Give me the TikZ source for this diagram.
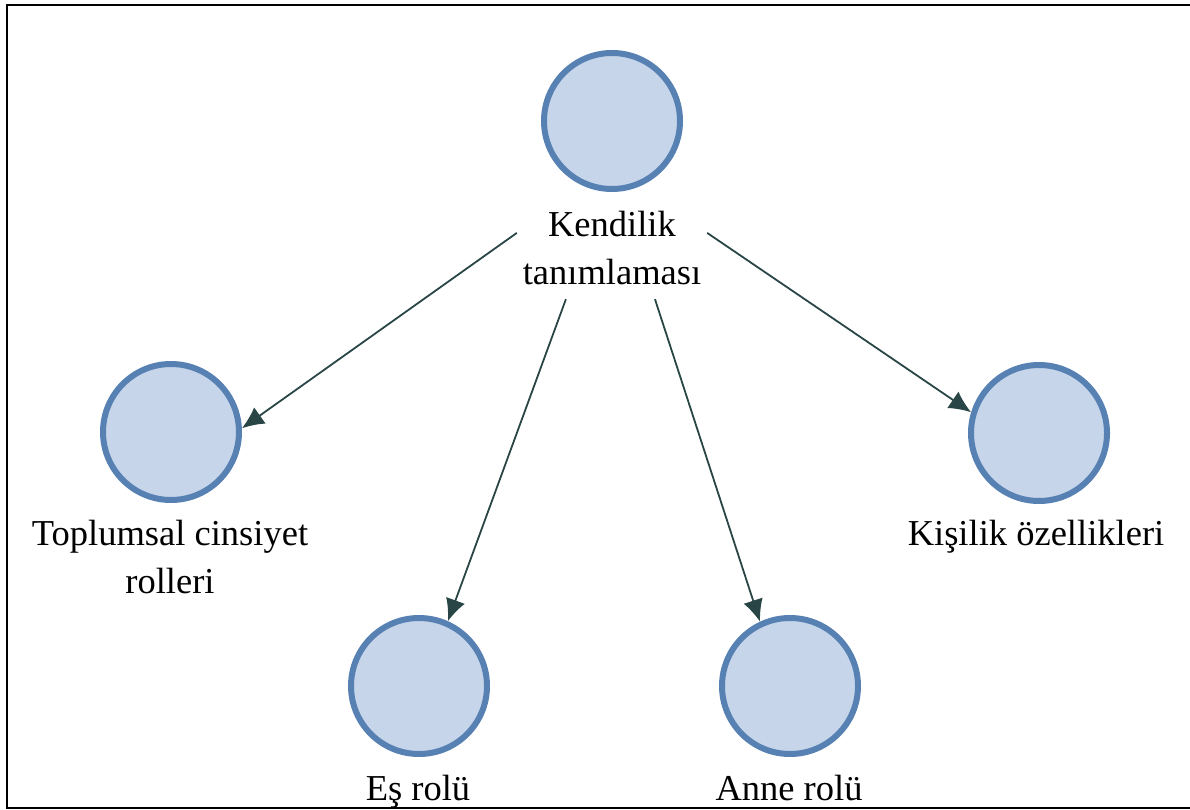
\documentclass[tikz,border=0pt]{standalone}
\usepackage{fontspec}
\setmainfont{Liberation Serif}
\usetikzlibrary{arrows.meta}
\definecolor{cfill}{HTML}{C6D5EA}
\definecolor{cdraw}{HTML}{5781B2}
\definecolor{arr}{HTML}{2A4545}
\begin{document}
\begin{tikzpicture}[x=1pt,y=-1pt,
  bub/.style={circle,draw=cdraw,fill=cfill,line width=6pt,minimum size=136pt,inner sep=0pt},
  lbl/.style={font=\fontsize{36.5}{48}\selectfont,align=center,inner sep=0pt},
  link/.style={draw=arr,line width=1.8pt,-{Latex[length=22pt,width=20pt]}}]
\useasboundingbox (0,0) rectangle (1190,810);
\draw[line width=2pt] (1190,5) -- (7,5) -- (7,808) -- (1190,808);
\node[bub] (c0) at (612,121) {};
\node[bub] (c1) at (171,432) {};
\node[bub] (c2) at (419,686) {};
\node[bub] (c3) at (790,686) {};
\node[bub] (c4) at (1039,433) {};
\node[lbl,minimum width=190pt,minimum height=102pt] (kt) at (612,248) {Kendilik\\tanımlaması};
\node[lbl,anchor=base] (t1) at (170,593) {Toplumsal cinsiyet\\rolleri};
\node[lbl,anchor=base] (t2) at (418,800) {Eş rolü};
\node[lbl,anchor=base] (t3) at (789,800) {Anne rolü};
\node[lbl,anchor=base] (t4) at (1036,545) {Kişilik özellikleri};
\draw[link] (kt.171) -- (c1.3);
\draw[link] (kt.228.7) -- (c2.66);
\draw[link] (kt.310.7) -- (c3.115);
\draw[link] (kt.9.7) -- (c4.163);
\end{tikzpicture}
\end{document}
